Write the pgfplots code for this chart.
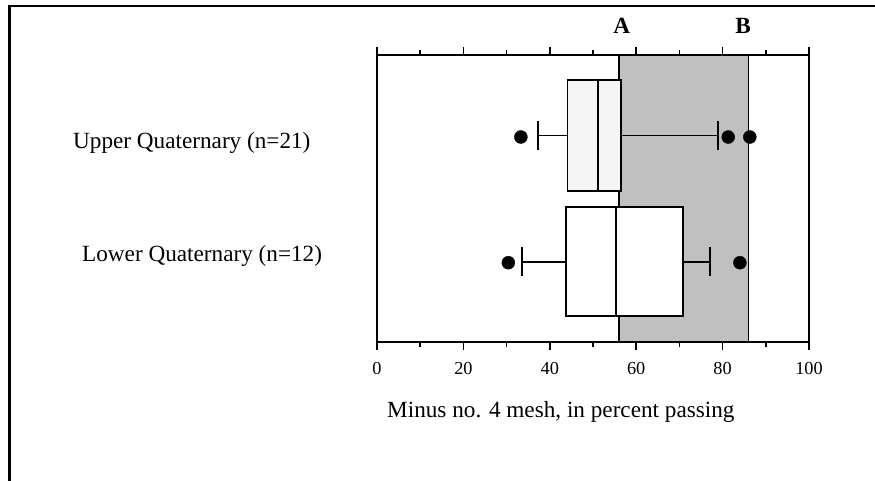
\documentclass[border=0pt]{standalone}
\usepackage{fontspec}
\setmainfont{Liberation Serif}
\usepackage{pgfplots}
\pgfplotsset{compat=1.18}
\usepgfplotslibrary{statistics}
\definecolor{shade}{HTML}{C0C0C0}
\definecolor{boxfill}{HTML}{F5F5F5}
\begin{document}
\begin{tikzpicture}
\path[use as bounding box] (0,0) rectangle (875pt,-480pt);
\draw[line width=2.5pt] (9.3pt,-500pt) -- (9.3pt,-6pt) -- (900pt,-6pt);
\begin{axis}[
  at={(377pt,-342pt)}, anchor=south west, scale only axis,
  width=432pt, height=287pt,
  xmin=0, xmax=100, ymin=0, ymax=287,
  axis line style={line width=2pt},
  xtick={0,20,...,100}, minor x tick num=1,
  ytick=\empty,
  tick align=outside, xtick pos=both, xticklabel pos=lower,
  major tick length=8pt, minor tick length=5pt,
  every tick/.append style={line width=1.5pt, black},
  /pgf/number format/assume math mode=true,
  tick label style={font=\fontsize{18.3}{21}\selectfont},
  xticklabel style={yshift=-9pt},
  clip=false,
  boxplot/draw direction=x,
  boxplot/every whisker/.style={line width=1.7pt},
]
\addplot[draw=black, line width=1.8pt, fill=shade] coordinates {(56,0) (56,287) (86,287) (86,0)} -- cycle;

\addplot[draw=black, line width=1.8pt, fill=boxfill,
  boxplot prepared={draw position=206.5, lower whisker=37.2, lower quartile=44.1,
  median=51.1, upper quartile=56.5, upper whisker=78.9, box extend=111, whisker extend=29}]
  coordinates {};
\addplot[only marks, mark=*, mark size=6.5pt, black] coordinates {(33.3,205) (81.3,205) (86.3,205)};

\addplot[draw=black, line width=1.8pt, fill=white,
  boxplot prepared={draw position=80.3, lower whisker=33.5, lower quartile=43.7,
  median=55.3, upper quartile=70.9, upper whisker=77.1, box extend=108.7, whisker extend=29.3}]
  coordinates {};
\addplot[only marks, mark=*, mark size=6.5pt, black] coordinates {(30.4,79.3) (84.0,79.3)};
\end{axis}
\node[anchor=base west, font=\fontsize{23.2}{28}\selectfont, inner sep=0] at (73pt,-148pt) {Upper Quaternary (n=21)};
\node[anchor=base west, font=\fontsize{23.2}{28}\selectfont, inner sep=0] at (82pt,-261pt) {Lower Quaternary (n=12)};
\node[anchor=base west, font=\fontsize{23.2}{28}\selectfont, inner sep=0] at (387pt,-417pt) {Minus no. 4 mesh, in percent passing};
\node[anchor=base, font=\bfseries\fontsize{23.2}{28}\selectfont, inner sep=0] at (621.7pt,-33pt) {A};
\node[anchor=base, font=\bfseries\fontsize{23.2}{28}\selectfont, inner sep=0] at (743pt,-33pt) {B};
\end{tikzpicture}
\end{document}
